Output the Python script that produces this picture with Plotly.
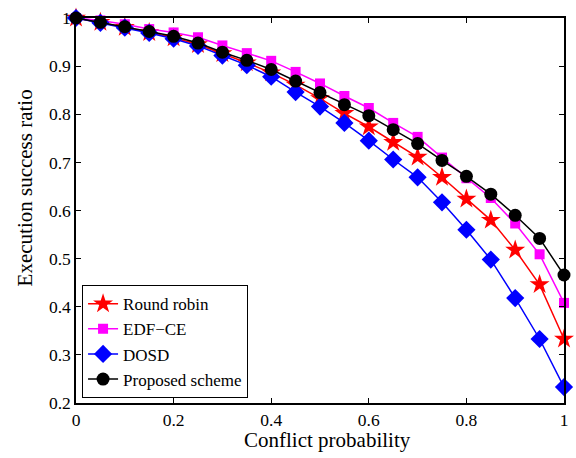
import plotly.graph_objects as go

x_vals = [0, 0.05, 0.1, 0.15, 0.2, 0.25, 0.3, 0.35, 0.4, 0.45, 0.5,
          0.55, 0.6, 0.65, 0.7, 0.75, 0.8, 0.85, 0.9, 0.95, 1.0]
round_robin = [1.0, 0.991, 0.981, 0.970, 0.959, 0.945, 0.926, 0.907, 0.886, 0.861, 0.833,
               0.802, 0.774, 0.742, 0.711, 0.669, 0.624, 0.580, 0.518, 0.446, 0.333]
edf_ce = [1.0, 0.995, 0.987, 0.977, 0.970, 0.960, 0.943, 0.927, 0.911, 0.888, 0.864,
          0.838, 0.813, 0.782, 0.753, 0.710, 0.667, 0.626, 0.573, 0.509, 0.408]
dosd = [1.0, 0.990, 0.980, 0.969, 0.957, 0.942, 0.922, 0.902, 0.878, 0.846, 0.816,
        0.782, 0.745, 0.706, 0.669, 0.617, 0.560, 0.498, 0.418, 0.333, 0.233]
proposed = [1.0, 0.991, 0.982, 0.972, 0.962, 0.948, 0.929, 0.912, 0.893, 0.869, 0.845,
            0.820, 0.797, 0.768, 0.739, 0.704, 0.671, 0.634, 0.590, 0.542, 0.466]

x_ticks = [0, 0.2, 0.4, 0.6, 0.8, 1]
x_tick_text = ["0", "0.2", "0.4", "0.6", "0.8", "1"]
y_ticks = [0.2, 0.3, 0.4, 0.5, 0.6, 0.7, 0.8, 0.9, 1.0]
y_tick_text = ["0.2", "0.3", "0.4", "0.5", "0.6", "0.7", "0.8", "0.9", "1"]
x_title = "Conflict probability"
y_title = "Execution success ratio"

series = [
    ("Round robin", round_robin, "#ff0000", "star", 15),
    ("EDF\u2212CE", edf_ce, "#ff00ff", "square", 10),
    ("DOSD", dosd, "#0000ff", "diamond", 14),
    ("Proposed scheme", proposed, "#000000", "circle", 13),
]

font_family = "Liberation Serif"

fig = go.Figure()
for name, vals, color, sym, size in series:
    fig.add_trace(go.Scatter(
        x=x_vals, y=vals, name=name, mode="lines+markers",
        line=dict(color=color, width=1.5),
        marker=dict(symbol=sym, size=size, color=color, line=dict(width=0)),
        cliponaxis=False,
    ))

axis_common = dict(
    showline=True, linecolor="black", linewidth=1.5, mirror="ticks",
    ticks="inside", ticklen=5, tickcolor="black", tickwidth=1,
    showgrid=False, zeroline=False,
    tickfont=dict(family=font_family, size=17.5, color="black"),
)

fig.update_layout(
    width=576, height=458,
    paper_bgcolor="white", plot_bgcolor="white",
    margin=dict(l=76, r=8, t=14, b=55),
    font=dict(family=font_family, color="black"),
    xaxis=dict(range=[0, 1], tickvals=x_ticks, ticktext=x_tick_text, **axis_common),
    yaxis=dict(range=[0.2, 1.0], tickvals=y_ticks, ticktext=y_tick_text, **axis_common),
    legend=dict(x=0.012, y=0.013, xanchor="left", yanchor="bottom",
                bgcolor="white", bordercolor="black", borderwidth=1.2,
                font=dict(family=font_family, size=17, color="black"),
                itemwidth=30, tracegroupgap=0, traceorder="normal"),
    showlegend=True,
    annotations=[
        dict(text=x_title, xref="paper", yref="paper", x=0.516, y=-0.095,
             xanchor="center", yanchor="middle", showarrow=False,
             font=dict(family=font_family, size=21, color="black")),
        dict(text=y_title, xref="paper", yref="paper", x=-0.104, y=0.558,
             xanchor="center", yanchor="middle", textangle=-90, showarrow=False,
             font=dict(family=font_family, size=21, color="black")),
    ],
)

fig.write_html("out.html", config={"displayModeBar": False},
               post_script="document.body.style.margin='0';document.body.style.overflow='hidden';")
